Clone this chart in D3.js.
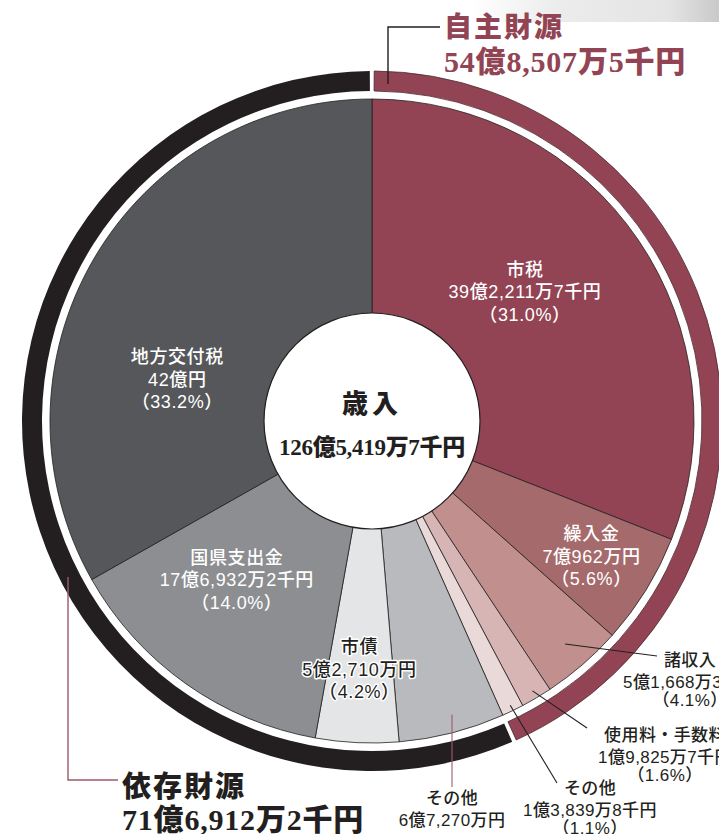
<!DOCTYPE html>
<html>
<head>
<meta charset="utf-8">
<script src="https://cdn.jsdelivr.net/npm/d3@7"></script>
<style>
  body { margin: 0; background: #fff; }
  svg { display: block; }
</style>
</head>
<body>
<div id="chart"></div>
<script>
// 歳入の内訳（単位：万円）
var names = ["市税", "繰入金", "諸収入", "使用料・手数料", "その他", "その他", "市債", "国県支出金", "地方交付税"];
var amounts = [392117, 70962, 51668.3, 19825.7, 13839.8, 67270, 52710, 176932, 420000];
var amountLabels = ["39億2,211万7千円", "7億962万円", "5億1,668万3千円", "1億9,825万7千円", "1億3,839万8千円", "6億7,270万円", "5億2,710万円", "17億6,932万2千円", "42億円"];
var shares = ["31.0%", "5.6%", "4.1%", "1.6%", "1.1%", "5.3%", "4.2%", "14.0%", "33.2%"];
var groups = ["自主", "自主", "自主", "自主", "自主", "依存", "依存", "依存", "依存"];

// 財源区分
var groupNames = ["自主財源", "依存財源"];
var groupTotals = ["54億8,507万5千円", "71億6,912万2千円"];
var centerTitle = "歳入";
var centerTotal = "126億5,419万7千円";

var colors = ["#924454", "#a56a6c", "#c08f8e", "#d6b5b4", "#e9d9d8", "#b9babd", "#e4e5e7", "#8d8e91", "#56575a"];
var ringColors = { "自主": "#924454", "依存": "#231f20" };

var width = 719, height = 834;
var cx = 372, cy = 421;
var rPie = 322, rHole = 108, rRingIn = 330, rRingOut = 350;
var sans = "'Liberation Sans', 'Noto Sans CJK JP', sans-serif";
var serif = "'Liberation Serif', 'Noto Sans CJK JP', serif";

var svg = d3.select("#chart").append("svg")
    .attr("width", width).attr("height", height);

//右上のグレーの影
var defs = svg.append("defs");
var grad = defs.append("linearGradient").attr("id", "shade");
grad.append("stop").attr("offset", "0").attr("stop-color", "#ffffff");
grad.append("stop").attr("offset", "0.35").attr("stop-color", "#ececec");
grad.append("stop").attr("offset", "0.8").attr("stop-color", "#e4e4e4");
grad.append("stop").attr("offset", "1").attr("stop-color", "#c9c9c9");
svg.append("rect").attr("x", 470).attr("y", 0).attr("width", 249).attr("height", 22)
    .attr("fill", "url(#shade)");

var g = svg.append("g").attr("transform", "translate(" + cx + "," + cy + ")");

var data = names.map(function (n, i) {
    return { i: i, name: n, value: amounts[i], amount: amountLabels[i], share: shares[i], group: groups[i] };
});

var pie = d3.pie().sort(null).value(function (d) { return d.value; });
var arcs = pie(data);

var arc = d3.arc().innerRadius(0).outerRadius(rPie);

//円グラフ
g.selectAll("path.slice")
    .data(arcs)
    .enter()
    .append("path")
    .attr("class", "slice")
    .attr("d", arc)
    .attr("fill", function (d) { return colors[d.data.i]; })
    .attr("stroke", "#231f20")
    .attr("stroke-width", 0.8);

//外側のリング（自主財源・依存財源）
var ringData = ["自主", "依存"].map(function (key) {
    return { key: key, value: d3.sum(data.filter(function (d) { return d.group == key; }), function (d) { return d.value; }) };
});
var ringArcs = pie.value(function (d) { return d.value; })(ringData);
var gap = 2.2 / rRingOut;
var ringArc = d3.arc().innerRadius(rRingIn).outerRadius(rRingOut);

g.selectAll("path.ring")
    .data(ringArcs)
    .enter()
    .append("path")
    .attr("class", "ring")
    .attr("d", function (d) {
        return ringArc({ startAngle: d.startAngle + gap, endAngle: d.endAngle - gap });
    })
    .attr("fill", function (d) { return ringColors[d.data.key]; })
    .attr("stroke", function (d) { return d.data.key == "自主" ? "#4a2a31" : "none"; })
    .attr("stroke-width", 0.8);

//中央の円
g.append("circle").attr("r", rHole).attr("fill", "#fff")
    .attr("stroke", "#231f20").attr("stroke-width", 1.2);

g.append("text").text(centerTitle)
    .attr("x", 0).attr("y", -8)
    .attr("text-anchor", "middle")
    .attr("font-family", serif).attr("font-weight", 900)
    .attr("font-size", 26).attr("letter-spacing", 4)
    .attr("fill", "#231f20");

g.append("text").text(centerTotal)
    .attr("x", 0).attr("y", 34)
    .attr("text-anchor", "middle")
    .attr("font-family", serif).attr("font-weight", 900)
    .attr("font-size", 23).attr("letter-spacing", -0.3)
    .attr("fill", "#231f20");

function polar(deg, r) {
    var a = deg * Math.PI / 180;
    return [r * Math.sin(a), -r * Math.cos(a)];
}

//円の内側に置くラベル（角度[度], 半径）
var insideLabels = {
    0: { a: 49.9, r: 200, color: "#fff" },
    1: { a: 121.7, r: 258, color: "#fff" },
    6: { a: 182.9, r: 249, color: "#231f20", halo: true },
    7: { a: 220.3, r: 209, color: "#fff" },
    8: { a: 281.9, r: 199, color: "#fff" }
};

var lineGap = 22.5;
var labelSize = 18;

arcs.forEach(function (d) {
    var spec = insideLabels[d.data.i];
    if (!spec) return;
    var p = polar(spec.a, spec.r);
    var t = g.append("text")
        .attr("text-anchor", "middle")
        .attr("font-family", sans)
        .attr("font-weight", 500)
        .attr("font-size", labelSize)
        .attr("letter-spacing", 0.6)
        .attr("fill", spec.color);
    if (spec.halo) {
        t.attr("stroke", "#fff").attr("stroke-width", 3)
            .attr("stroke-linejoin", "round").attr("paint-order", "stroke");
    }
    [d.data.name, d.data.amount, "（" + d.data.share + "）"].forEach(function (s, k) {
        t.append("tspan").text(s)
            .attr("x", p[0])
            .attr("y", p[1] + (k - 1) * lineGap + 6);
    });
});

//円の外側に置くラベル（引出線の始点半径、終点、文字の中心と1行目のベースライン）
var outsideLabels = {
    2: { r0: 295, end: [657, 656], tx: 690, ty: 666, lines: 3, stroke: "#231f20" },
    3: { r0: 314, end: [587, 728], tx: 665, ty: 741, lines: 3, stroke: "#231f20" },
    4: { r0: 316, end: [557, 783], tx: 590, ty: 794, lines: 3, stroke: "#231f20" },
    5: { r0: 303, end: [452, 787], tx: 452, ty: 804, lines: 2, stroke: "#9d5a6a" }
};

arcs.forEach(function (d) {
    var spec = outsideLabels[d.data.i];
    if (!spec) return;
    var mid = (d.startAngle + d.endAngle) / 2 * 180 / Math.PI;
    var p = polar(mid, spec.r0);
    var start = [cx + p[0], cy + p[1]];
    if (d.data.i == 5) start[0] = spec.end[0];
    svg.append("line")
        .attr("x1", start[0]).attr("y1", start[1])
        .attr("x2", spec.end[0]).attr("y2", spec.end[1])
        .attr("stroke", spec.stroke).attr("stroke-width", 1.1);

    //行ごとに別のtextにする
    var rows = [d.data.name, d.data.amount, "（" + d.data.share + "）"].slice(0, spec.lines);
    rows.forEach(function (s, k) {
        svg.append("text").text(s)
            .attr("x", spec.tx)
            .attr("y", spec.ty + k * (k == 2 ? 20 : 22))
            .attr("text-anchor", "middle")
            .attr("font-family", sans)
            .attr("font-weight", 500)
            .attr("font-size", 17)
            .attr("letter-spacing", 0.4)
            .attr("fill", "#231f20");
    });
});

//自主財源の見出し
svg.append("path")
    .attr("d", d3.line()([[388, 84], [388, 27], [440, 27]]))
    .attr("fill", "none").attr("stroke", "#231f20").attr("stroke-width", 1.4);

svg.append("text").text(groupNames[0])
    .attr("x", 444).attr("y", 37)
    .attr("font-family", serif).attr("font-weight", 900)
    .attr("font-size", 28).attr("letter-spacing", 2)
    .attr("fill", ringColors["自主"]);
svg.append("text").text(groupTotals[0])
    .attr("x", 444).attr("y", 72)
    .attr("font-family", serif).attr("font-weight", 900)
    .attr("font-size", 30).attr("letter-spacing", 0.8)
    .attr("fill", ringColors["自主"]);

//依存財源の見出し
svg.append("path")
    .attr("d", d3.line()([[68, 577], [68, 780], [118, 780]]))
    .attr("fill", "none").attr("stroke", "#9d5a6a").attr("stroke-width", 1.4);

svg.append("text").text(groupNames[1])
    .attr("x", 122).attr("y", 797)
    .attr("font-family", serif).attr("font-weight", 900)
    .attr("font-size", 29).attr("letter-spacing", 2)
    .attr("fill", "#231f20");
svg.append("text").text(groupTotals[1])
    .attr("x", 122).attr("y", 830)
    .attr("font-family", serif).attr("font-weight", 900)
    .attr("font-size", 30).attr("letter-spacing", 0.8)
    .attr("fill", "#231f20");
</script>
</body>
</html>
